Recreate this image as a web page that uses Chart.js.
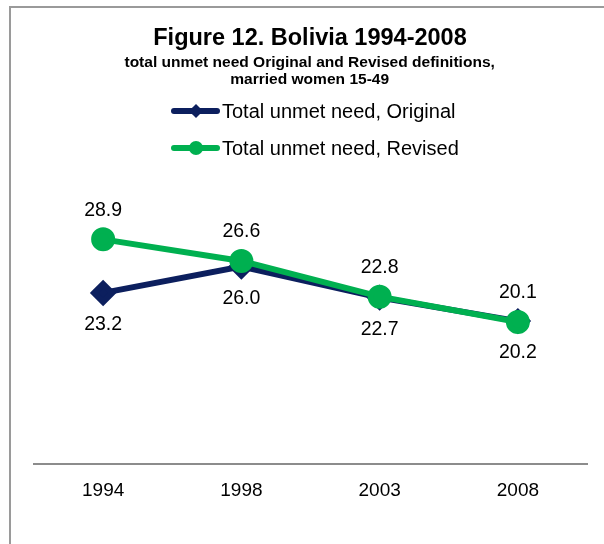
<!DOCTYPE html>
<html>
<head>
<meta charset="utf-8">
<script src="https://cdn.jsdelivr.net/npm/chart.js@4.4.1/dist/chart.umd.min.js"></script>
<style>
  html, body { margin: 0; padding: 0; background: #fff; }
  body { width: 604px; height: 544px; position: relative; overflow: hidden; font-family: "Liberation Sans", Arial, sans-serif; color: #000; }
  #frame { position: absolute; left: 9px; top: 6px; width: 700px; height: 600px; border-left: 2px solid #9a9a9a; border-top: 2px solid #9a9a9a; }
  #chart { position: absolute; left: 0; top: 0; }
  .title { position: absolute; left: 0; width: 620px; text-align: center; font-weight: bold; }
  #t1 { top: 24px; font-size: 23.5px; line-height: 27px; }
  #t2 { top: 54px; font-size: 14px; line-height: 17px; transform: scaleX(1.11); transform-origin: 313px 0; }
  .leg { position: absolute; left: 171px; height: 24px; font-size: 20px; display: flex; align-items: center; }
  .leg .mark { position: relative; width: 49px; height: 24px; margin-right: 2px; }
  .leg .mark .ln { position: absolute; left: 0; right: 0; top: 9px; height: 6px; border-radius: 3px; }
  .leg .mark .pt { position: absolute; left: 50%; top: 50%; }
  #leg1 { top: 99px; }
  #leg2 { top: 136px; }
</style>
</head>
<body>
<div id="frame"></div>
<canvas id="chart" width="604" height="544"></canvas>
<div class="title" id="t1">Figure 12. Bolivia 1994-2008</div>
<div class="title" id="t2">total unmet need Original and Revised definitions,<br>married women 15-49</div>
<div class="leg" id="leg1"><span class="mark"><span class="ln" style="background:#0c1f5e"></span><span class="pt" style="width:10px;height:10px;margin:-5px 0 0 -5px;background:#0c1f5e;transform:rotate(45deg)"></span></span>Total unmet need, Original</div>
<div class="leg" id="leg2"><span class="mark"><span class="ln" style="background:#00b050"></span><span class="pt" style="width:14px;height:14px;margin:-7px 0 0 -7px;background:#00b050;border-radius:50%"></span></span>Total unmet need, Revised</div>
<script>
const years = ['1994', '1998', '2003', '2008'];
const originalValues = [23.2, 26.0, 22.7, 20.2];
const revisedValues = [28.9, 26.6, 22.8, 20.1];

const navy = '#0c1f5e';
const green = '#00b050';
const fontFamily = '"Liberation Sans", Arial, sans-serif';

// value labels: original below its points, revised above
const valueLabels = {
    id: 'valueLabels',
    afterDatasetsDraw(chart) {
        const ctx = chart.ctx;
        ctx.save();
        ctx.font = '19.5px ' + fontFamily;
        ctx.fillStyle = '#000';
        ctx.textAlign = 'center';
        ctx.textBaseline = 'middle';
        chart.data.datasets.forEach((ds, di) => {
            const meta = chart.getDatasetMeta(di);
            meta.data.forEach((pt, i) => {
                const dy = ds.labelBelow ? 32 : -29;
                ctx.fillText(ds.data[i].toFixed(1), pt.x, pt.y + dy);
            });
        });
        ctx.restore();
    }
};

new Chart(document.getElementById('chart'), {
    type: 'line',
    data: {
        labels: years,
        datasets: [
            {
                label: 'Total unmet need, Original',
                data: originalValues,
                borderColor: navy,
                backgroundColor: navy,
                borderWidth: 6,
                pointStyle: 'rectRot',
                pointRadius: 9,
                pointHoverRadius: 9,
                labelBelow: true,
                order: 2,
            },
            {
                label: 'Total unmet need, Revised',
                data: revisedValues,
                borderColor: green,
                backgroundColor: green,
                borderWidth: 6,
                pointStyle: 'circle',
                pointRadius: 9,
                pointHoverRadius: 9,
                labelBelow: false,
                order: 1,
            },
        ],
    },
    options: {
        responsive: false,
        animation: false,
        layout: { padding: { left: 34, right: 17, top: 182, bottom: 40 } },
        plugins: {
            legend: { display: false },
            tooltip: { enabled: false },
        },
        scales: {
            x: {
                offset: true,
                grid: { display: false, drawTicks: false },
                border: { display: true, color: '#8c8c8c', width: 2 },
                ticks: { color: '#000', padding: 15, font: { family: fontFamily, size: 19 } },
                afterFit: scale => { scale.height = 40; },
            },
            y: {
                display: false,
                min: 5,
                max: 35,
            },
        },
    },
    plugins: [valueLabels],
});
</script>
</body>
</html>
